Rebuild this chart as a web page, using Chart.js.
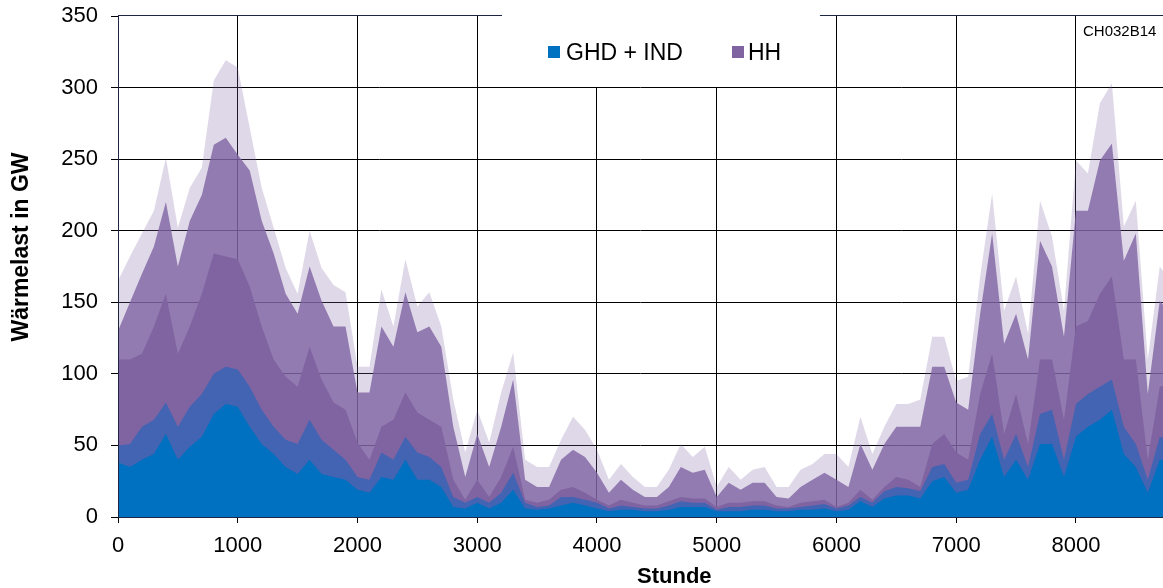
<!DOCTYPE html>
<html>
<head>
<meta charset="utf-8">
<script src="https://cdn.jsdelivr.net/npm/chart.js@4.4.0/dist/chart.umd.min.js"></script>
<style>
  html, body { margin: 0; padding: 0; background: #fff; }
</style>
</head>
<body>
<canvas id="waermeChart" width="1163" height="588"></canvas>
<script>
const hours = [0, 100, 200, 300, 400, 500, 600, 700, 800, 900,
  1000, 1100, 1200, 1300, 1400, 1500, 1600, 1700, 1800, 1900,
  2000, 2100, 2200, 2300, 2400, 2500, 2600, 2700, 2800, 2900,
  3000, 3100, 3200, 3300, 3400, 3500, 3600, 3700, 3800, 3900,
  4000, 4100, 4200, 4300, 4400, 4500, 4600, 4700, 4800, 4900,
  5000, 5100, 5200, 5300, 5400, 5500, 5600, 5700, 5800, 5900,
  6000, 6100, 6200, 6300, 6400, 6500, 6600, 6700, 6800, 6900,
  7000, 7100, 7200, 7300, 7400, 7500, 7600, 7700, 7800, 7900,
  8000, 8100, 8200, 8300, 8400, 8500, 8600, 8700, 8760];

// GHD + IND: Sockel (Tagesminimum) und Spitzen, in GW
const ghdBase = [38, 35, 40, 44, 58, 40, 49, 56, 72, 79,
  77, 63, 51, 44, 35, 30, 40, 30, 28, 26,
  19, 17, 28, 26, 40, 26, 26, 21, 7, 6,
  10, 6, 10, 19, 6, 5, 6, 8, 10, 8,
  6, 4, 5, 5, 4, 4, 5, 7, 7, 7,
  4, 4, 4, 5, 5, 4, 4, 5, 5, 6,
  4, 5, 11, 7, 13, 15, 15, 13, 25, 28,
  17, 19, 40, 56, 28, 40, 26, 51, 51, 28,
  56, 63, 68, 75, 44, 35, 17, 40, 40];
const ghdPeak = [50, 51, 63, 68, 80, 63, 77, 86, 100, 105,
  103, 91, 75, 63, 54, 51, 68, 54, 47, 40,
  28, 26, 45, 40, 56, 45, 42, 35, 14, 10,
  14, 10, 17, 31, 10, 7, 8, 14, 14, 12,
  10, 6, 8, 7, 6, 6, 8, 11, 10, 10,
  5, 7, 7, 8, 8, 6, 6, 7, 8, 9,
  6, 8, 14, 10, 18, 21, 20, 18, 35, 37,
  24, 26, 58, 72, 40, 58, 35, 72, 75, 40,
  79, 86, 91, 96, 63, 51, 26, 56, 55];

// Summe GHD + IND + HH: dichter Sockel, Mitte der Tagesspitzen, Spitzen, in GW
const totalBase = [110, 110, 114, 133, 156, 114, 133, 156, 184, 182,
  180, 161, 133, 110, 98, 91, 119, 96, 80, 75,
  52, 40, 63, 68, 87, 73, 68, 63, 26, 12,
  26, 14, 28, 49, 12, 10, 12, 19, 21, 17,
  12, 8, 12, 10, 8, 8, 11, 14, 13, 13,
  7, 10, 10, 11, 11, 8, 7, 10, 11, 12,
  7, 10, 19, 12, 21, 28, 26, 21, 51, 58,
  45, 40, 86, 114, 58, 86, 51, 110, 110, 68,
  133, 137, 156, 168, 110, 110, 40, 91, 92];
const totalMid = [130, 150, 170, 189, 220, 175, 207, 225, 260, 265,
  253, 242, 207, 184, 156, 142, 175, 151, 133, 133,
  87, 87, 133, 119, 157, 129, 133, 119, 63, 28,
  58, 35, 63, 96, 26, 21, 21, 40, 47, 42,
  31, 17, 26, 19, 14, 14, 21, 35, 31, 33,
  14, 24, 19, 24, 24, 14, 13, 21, 26, 31,
  26, 21, 51, 33, 51, 63, 63, 63, 105, 105,
  80, 75, 142, 198, 121, 142, 110, 193, 175, 126,
  214, 214, 249, 261, 179, 198, 86, 151, 145];
const totalPeak = [165, 182, 198, 214, 251, 202, 230, 244, 305, 319,
  314, 272, 230, 202, 174, 156, 200, 174, 162, 157,
  105, 105, 159, 133, 180, 147, 157, 133, 82, 45,
  75, 52, 87, 115, 40, 35, 35, 54, 70, 61,
  47, 26, 37, 28, 21, 21, 33, 51, 42, 49,
  21, 35, 26, 33, 35, 21, 21, 33, 37, 44,
  44, 35, 70, 44, 63, 79, 79, 82, 126, 126,
  95, 98, 168, 226, 144, 168, 128, 221, 196, 144,
  249, 240, 289, 303, 203, 221, 110, 175, 168];

const xTicks = [0, 1000, 2000, 3000, 4000, 5000, 6000, 7000, 8000];
const yTicks = [0, 50, 100, 150, 200, 250, 300, 350];
const seriesNames = ['GHD + IND', 'HH'];

const BLUE = '#0070c0';
const PURPLE = '#8064a2';
const AXIS = '#1c2541';
const FONT = "'Liberation Sans', Arial, sans-serif";

const pts = arr => hours.map((h, i) => ({ x: h, y: arr[i] }));

function band(label, arr, color) {
    return {
        label: label,
        data: pts(arr),
        backgroundColor: color,
        borderWidth: 0,
        pointRadius: 0,
        tension: 0,
        fill: 'origin'
    };
}

// Legende, Rahmen, Beschriftungen
const overlay = {
    id: 'overlay',
    beforeDatasetsDraw(chart) {
        const { ctx, chartArea: a, scales: { x, y } } = chart;
        const x0 = Math.floor(x.getPixelForValue(3000)) + 1;
        const x1 = Math.floor(x.getPixelForValue(6000));
        const yb = Math.floor(y.getPixelForValue(300));
        ctx.save();
        ctx.fillStyle = '#fff';
        ctx.fillRect(x0, a.top - 2, x1 - x0, yb - a.top + 2);
        ctx.restore();
    },
    afterDatasetsDraw(chart) {
        const { ctx, chartArea: a, scales: { x } } = chart;
        ctx.save();
        ctx.strokeStyle = AXIS;
        ctx.lineWidth = 1;
        ctx.beginPath();
        ctx.moveTo(a.left + 0.5, a.top);
        ctx.lineTo(a.left + 0.5, a.bottom + 1);
        ctx.moveTo(a.left, a.bottom + 0.5);
        ctx.lineTo(a.right, a.bottom + 0.5);
        // oberer Rahmen mit Lücke hinter der Legende
        ctx.moveTo(a.left, a.top - 0.5);
        ctx.lineTo(x.getPixelForValue(3207), a.top - 0.5);
        ctx.moveTo(x.getPixelForValue(5862), a.top - 0.5);
        ctx.lineTo(a.right, a.top - 0.5);
        ctx.stroke();

        // Legende
        ctx.fillStyle = BLUE;
        ctx.fillRect(548, 46, 12, 12);
        ctx.fillStyle = PURPLE;
        ctx.fillRect(732, 46, 12, 12);
        ctx.fillStyle = '#000';
        ctx.font = '23px ' + FONT;
        ctx.textBaseline = 'alphabetic';
        ctx.textAlign = 'left';
        ctx.fillText(seriesNames[0], 566, 60);
        ctx.fillText(seriesNames[1], 748, 60);

        ctx.font = '15px ' + FONT;
        ctx.fillText('CH032B14', 1083, 36);

        // Achsentitel
        ctx.font = 'bold 22px ' + FONT;
        ctx.fillText('Stunde', 637, 583);
        ctx.translate(22, 247);
        ctx.rotate(-Math.PI / 2);
        ctx.textAlign = 'center';
        ctx.textBaseline = 'middle';
        ctx.font = 'bold 23px ' + FONT;
        ctx.fillText('Wärmelast in GW', 0, 0);
        ctx.restore();
    }
};

new Chart(document.getElementById('waermeChart'), {
    type: 'line',
    data: {
        datasets: [
            band(seriesNames[0], ghdBase, BLUE),
            band('GHD + IND Spitzen', ghdPeak, 'rgba(40, 100, 185, 0.7)'),
            band(seriesNames[1], totalBase, PURPLE),
            band('HH Mitte', totalMid, 'rgba(128, 100, 162, 0.8)'),
            band('HH Spitzen', totalPeak, 'rgba(128, 100, 162, 0.25)')
        ]
    },
    options: {
        responsive: false,
        animation: false,
        devicePixelRatio: 1,
        layout: { padding: { top: 16, right: 0, left: 0, bottom: 0 } },
        plugins: {
            legend: { display: false },
            tooltip: { enabled: false }
        },
        scales: {
            x: {
                type: 'linear',
                min: 0,
                max: 8727,
                afterBuildTicks: s => { s.ticks = xTicks.map(v => ({ value: v })); },
                afterFit: s => { s.height = 71; s.paddingLeft = 0; s.paddingRight = 0; },
                border: { display: false },
                grid: { color: '#000', lineWidth: 1, tickLength: 6, tickColor: '#000' },
                ticks: {
                    autoSkip: false,
                    maxRotation: 0,
                    padding: 10,
                    color: '#000',
                    font: { family: FONT, size: 22 },
                    callback: v => String(v)
                }
            },
            y: {
                min: 0,
                max: 350,
                afterBuildTicks: s => { s.ticks = yTicks.map(v => ({ value: v })); },
                afterFit: s => { s.width = 118; s.paddingTop = 0; s.paddingBottom = 0; },
                border: { display: false },
                grid: {
                    color: c => (c.tick && c.tick.value === 350) ? 'rgba(0,0,0,0)' : '#000',
                    lineWidth: 1,
                    tickLength: 7,
                    tickColor: '#000'
                },
                ticks: {
                    padding: 13,
                    color: '#000',
                    font: { family: FONT, size: 22 },
                    callback: v => String(v)
                }
            }
        }
    },
    plugins: [overlay]
});
</script>
</body>
</html>
